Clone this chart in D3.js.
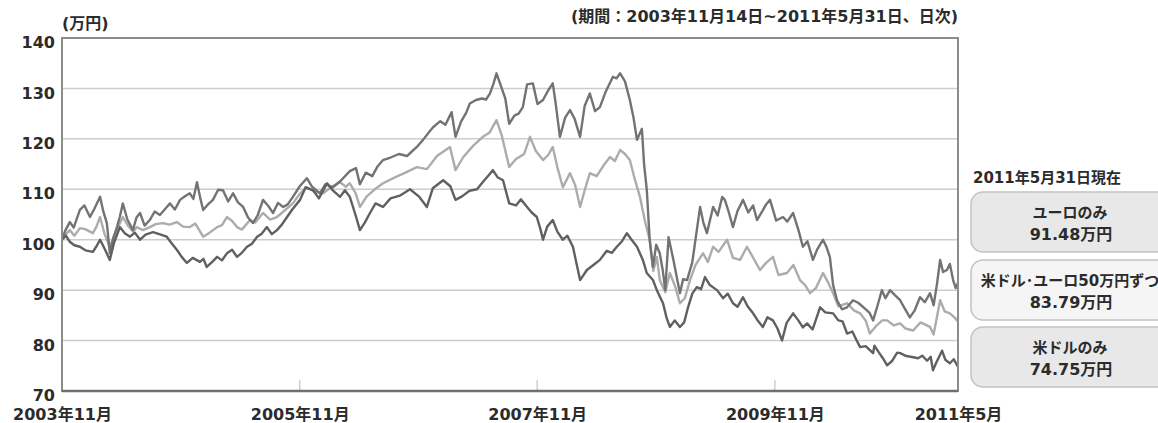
<!DOCTYPE html>
<html>
<head>
<meta charset="utf-8">
<script src="https://cdn.jsdelivr.net/npm/d3@7"></script>
<style>
  html, body { margin: 0; padding: 0; background: #fff; }
  svg { display: block; }
  text { font-family: "DejaVu Sans", "Noto Sans CJK JP", sans-serif; font-weight: bold; fill: #2b2b2b; }
</style>
</head>
<body>
<svg id="chart" width="1158" height="423"></svg>
<script>
// Value of 1,000,000 yen invested on 2003-11-14 (unit: 万円), sampled from the daily series
const euroOnly = [
  ["2003-11-14",100.0],["2003-11-24",101.8],["2003-12-08",103.5],["2003-12-20",102.4],["2004-01-08",105.9],
  ["2004-01-22",106.8],["2004-02-08",104.5],["2004-02-22",106.2],["2004-03-10",108.5],["2004-03-20",105.6],
  ["2004-03-31",103.3],["2004-04-09",97.3],["2004-04-20",100.4],["2004-05-01",102.5],["2004-05-10",104.6],
  ["2004-05-19",107.2],["2004-06-02",104.0],["2004-06-19",101.9],["2004-06-30",104.4],["2004-07-11",105.3],
  ["2004-07-25",102.8],["2004-08-10",103.9],["2004-08-25",105.6],["2004-09-10",104.9],["2004-09-26",106.1],
  ["2004-10-11",107.2],["2004-10-26",106.0],["2004-11-11",107.9],["2004-11-26",108.6],["2004-12-11",109.2],
  ["2004-12-22",108.1],["2005-01-02",111.4],["2005-01-12",108.3],["2005-01-21",105.9],["2005-02-05",107.0],
  ["2005-02-20",107.9],["2005-03-08",109.9],["2005-03-23",109.8],["2005-04-08",107.6],["2005-04-23",109.2],
  ["2005-05-08",107.4],["2005-05-24",106.5],["2005-06-08",104.4],["2005-06-23",103.3],["2005-07-08",104.9],
  ["2005-07-24",107.9],["2005-08-08",106.8],["2005-08-24",105.3],["2005-09-08",107.3],["2005-09-24",106.5],
  ["2005-10-08",107.0],["2005-10-24",108.5],["2005-11-14",110.6],["2005-12-06",112.2],["2005-12-22",110.5],
  ["2006-01-15",109.2],["2006-02-01",111.0],["2006-02-24",110.4],["2006-03-20",111.7],["2006-04-17",113.6],
  ["2006-05-06",114.2],["2006-05-18",111.0],["2006-06-05",113.3],["2006-06-25",112.6],["2006-07-10",114.4],
  ["2006-07-28",115.8],["2006-08-20",116.3],["2006-09-15",117.0],["2006-10-10",116.6],["2006-11-09",118.4],
  ["2006-11-28",119.8],["2006-12-15",121.2],["2006-12-29",122.3],["2007-01-20",123.5],["2007-02-05",122.8],
  ["2007-02-24",125.3],["2007-03-08",120.4],["2007-03-25",123.4],["2007-04-10",125.2],["2007-04-21",127.0],
  ["2007-05-10",127.7],["2007-05-28",128.0],["2007-06-10",127.8],["2007-06-22",129.0],["2007-07-03",131.0],
  ["2007-07-12",133.0],["2007-07-25",130.6],["2007-08-08",128.0],["2007-08-20",123.0],["2007-09-05",124.6],
  ["2007-09-18",125.0],["2007-10-01",126.3],["2007-10-14",130.8],["2007-11-01",131.0],["2007-11-15",126.9],
  ["2007-12-02",127.7],["2007-12-18",129.6],["2008-01-01",131.0],["2008-01-10",127.0],["2008-01-23",120.4],
  ["2008-02-08",124.2],["2008-02-23",125.7],["2008-03-08",124.0],["2008-03-25",120.4],["2008-04-08",126.5],
  ["2008-04-24",129.0],["2008-05-10",125.5],["2008-05-25",126.3],["2008-06-12",129.4],["2008-07-04",132.3],
  ["2008-07-15",132.0],["2008-07-26",133.0],["2008-08-10",131.4],["2008-08-25",127.7],["2008-09-05",124.3],
  ["2008-09-16",119.8],["2008-10-01",122.0],["2008-10-08",114.8],["2008-10-16",110.0],["2008-10-25",100.0],
  ["2008-11-04",94.6],["2008-11-14",99.0],["2008-11-25",97.3],["2008-12-04",94.0],["2008-12-12",90.0],
  ["2008-12-22",100.5],["2009-01-06",96.0],["2009-01-26",89.4],["2009-02-05",92.2],["2009-02-17",92.0],
  ["2009-03-05",95.5],["2009-03-17",101.0],["2009-03-29",106.5],["2009-04-08",103.4],["2009-04-19",101.3],
  ["2009-05-08",106.5],["2009-05-22",104.8],["2009-06-05",108.5],["2009-06-13",107.9],["2009-06-25",105.5],
  ["2009-07-08",102.5],["2009-07-22",105.7],["2009-08-08",107.9],["2009-08-24",105.4],["2009-09-08",106.8],
  ["2009-09-20",103.9],["2009-10-05",105.5],["2009-10-18",107.0],["2009-10-30",107.9],["2009-11-18",103.8],
  ["2009-12-09",104.5],["2009-12-22",103.6],["2010-01-09",105.3],["2010-01-25",102.0],["2010-02-08",98.6],
  ["2010-02-22",99.7],["2010-03-11",96.0],["2010-03-25",98.2],["2010-04-11",100.0],["2010-04-22",98.5],
  ["2010-05-02",96.6],["2010-05-12",91.0],["2010-05-24",88.0],["2010-06-08",86.2],["2010-06-24",86.6],
  ["2010-07-12",88.0],["2010-07-28",87.5],["2010-08-24",86.0],["2010-09-01",85.5],["2010-09-12",84.0],
  ["2010-09-25",86.8],["2010-10-09",90.0],["2010-10-20",88.4],["2010-11-03",90.0],["2010-11-18",89.0],
  ["2010-12-04",88.0],["2010-12-18",86.4],["2011-01-03",84.6],["2011-01-18",86.0],["2011-02-03",88.6],
  ["2011-02-18",87.6],["2011-03-06",89.4],["2011-03-17",87.0],["2011-03-28",91.5],["2011-04-06",96.0],
  ["2011-04-15",93.6],["2011-04-27",94.0],["2011-05-06",95.2],["2011-05-16",92.0],["2011-05-24",90.4],
  ["2011-05-31",91.48]
];

const usdEuroHalf = [
  ["2003-11-14",100.0],["2003-11-25",101.0],["2003-12-08",101.9],["2003-12-22",100.8],["2004-01-08",102.3],
  ["2004-01-24",102.1],["2004-02-17",101.3],["2004-02-28",102.6],["2004-03-10",104.5],["2004-03-24",101.1],
  ["2004-04-09",98.6],["2004-04-25",101.2],["2004-05-19",104.5],["2004-06-05",102.7],["2004-06-20",101.6],
  ["2004-07-01",102.5],["2004-07-20",101.9],["2004-08-10",102.5],["2004-08-28",103.1],["2004-09-19",103.3],
  ["2004-10-10",103.0],["2004-11-01",103.5],["2004-11-20",102.6],["2004-12-11",102.5],["2004-12-28",103.2],
  ["2005-01-21",100.6],["2005-02-10",101.4],["2005-03-05",102.5],["2005-03-20",102.9],["2005-04-04",104.5],
  ["2005-04-20",103.7],["2005-05-05",102.5],["2005-05-20",102.0],["2005-06-14",103.9],["2005-06-30",103.4],
  ["2005-07-24",105.3],["2005-08-15",104.0],["2005-09-05",104.5],["2005-09-25",105.6],["2005-10-24",107.2],
  ["2005-11-14",109.1],["2005-12-06",110.4],["2005-12-28",109.6],["2006-01-25",109.2],["2006-02-20",110.5],
  ["2006-03-18",111.4],["2006-04-05",110.5],["2006-04-17",111.2],["2006-05-05",109.2],["2006-05-18",106.5],
  ["2006-06-08",108.6],["2006-07-01",109.9],["2006-07-28",111.2],["2006-09-01",112.3],["2006-10-05",113.3],
  ["2006-11-09",114.4],["2006-12-10",114.0],["2007-01-10",116.6],["2007-02-19",118.4],["2007-03-08",113.8],
  ["2007-04-01",116.4],["2007-05-01",118.6],["2007-05-31",120.4],["2007-06-20",121.2],["2007-07-12",123.7],
  ["2007-07-28",120.7],["2007-08-20",114.4],["2007-09-10",116.0],["2007-10-05",117.0],["2007-10-23",120.4],
  ["2007-11-10",117.6],["2007-12-02",115.8],["2007-12-18",116.8],["2008-01-01",118.4],["2008-01-15",114.4],
  ["2008-02-01",110.4],["2008-02-23",113.2],["2008-03-10",110.8],["2008-03-25",106.5],["2008-04-10",110.2],
  ["2008-04-24",113.2],["2008-05-15",112.6],["2008-06-05",114.7],["2008-06-25",116.4],["2008-07-10",115.6],
  ["2008-07-26",117.8],["2008-08-10",117.0],["2008-08-25",115.8],["2008-09-10",111.8],["2008-09-25",108.5],
  ["2008-10-10",103.8],["2008-10-25",100.0],["2008-11-05",93.8],["2008-11-16",96.6],["2008-11-25",92.0],
  ["2008-12-12",89.6],["2008-12-26",93.4],["2009-01-12",90.6],["2009-01-26",87.4],["2009-02-10",88.4],
  ["2009-02-26",92.0],["2009-03-15",95.0],["2009-04-07",97.3],["2009-04-22",95.6],["2009-05-08",98.6],
  ["2009-05-25",97.6],["2009-06-20",100.0],["2009-07-08",96.4],["2009-07-30",96.0],["2009-08-20",98.6],
  ["2009-09-05",96.8],["2009-09-29",94.0],["2009-10-18",95.4],["2009-11-08",96.6],["2009-11-25",93.0],
  ["2009-12-21",93.4],["2010-01-10",95.0],["2010-01-30",92.0],["2010-02-15",91.0],["2010-03-02",89.4],
  ["2010-03-20",90.4],["2010-04-11",93.4],["2010-04-26",91.6],["2010-05-12",89.4],["2010-05-28",86.8],
  ["2010-06-24",87.4],["2010-07-15",86.0],["2010-08-03",85.4],["2010-08-20",84.0],["2010-09-02",81.4],
  ["2010-09-20",82.8],["2010-10-10",84.0],["2010-10-25",84.0],["2010-11-15",83.0],["2010-12-04",83.4],
  ["2010-12-20",82.4],["2011-01-13",82.0],["2011-02-05",83.6],["2011-03-06",82.7],["2011-03-17",81.2],
  ["2011-04-06",88.0],["2011-04-20",85.8],["2011-05-06",85.4],["2011-05-20",84.6],["2011-05-31",83.79]
];

const usdOnly = [
  ["2003-11-14",100.0],["2003-11-26",100.8],["2003-12-08",99.6],["2003-12-22",98.9],["2004-01-08",98.6],
  ["2004-01-25",97.9],["2004-02-17",97.6],["2004-02-28",98.7],["2004-03-10",100.0],["2004-03-24",98.2],
  ["2004-04-09",96.0],["2004-04-22",99.4],["2004-05-10",102.5],["2004-05-25",101.3],["2004-06-10",100.6],
  ["2004-06-25",101.4],["2004-07-11",100.0],["2004-07-28",101.0],["2004-08-20",101.5],["2004-09-08",101.1],
  ["2004-10-01",100.6],["2004-10-16",99.3],["2004-11-01",98.0],["2004-11-16",96.6],["2004-12-02",95.4],
  ["2004-12-20",96.4],["2005-01-11",95.6],["2005-01-22",96.2],["2005-02-01",94.6],["2005-02-18",95.6],
  ["2005-03-05",96.6],["2005-03-20",95.9],["2005-04-04",97.3],["2005-04-20",98.0],["2005-05-05",96.6],
  ["2005-05-20",97.4],["2005-06-05",98.6],["2005-06-20",99.2],["2005-07-06",100.6],["2005-07-20",101.2],
  ["2005-08-05",102.5],["2005-08-20",101.1],["2005-09-05",101.9],["2005-09-20",103.0],["2005-10-06",104.5],
  ["2005-10-22",106.0],["2005-11-15",107.9],["2005-12-02",110.4],["2005-12-25",109.8],["2006-01-12",108.2],
  ["2006-02-06",111.2],["2006-02-22",109.9],["2006-03-18",108.5],["2006-04-02",109.8],["2006-04-17",108.5],
  ["2006-05-05",104.8],["2006-05-18",101.9],["2006-06-02",103.4],["2006-06-18",105.3],["2006-07-05",107.2],
  ["2006-07-28",106.5],["2006-08-20",108.2],["2006-09-20",108.8],["2006-10-19",110.0],["2006-11-15",108.6],
  ["2006-12-10",106.5],["2006-12-28",110.2],["2007-01-29",111.8],["2007-02-20",110.6],["2007-03-08",107.9],
  ["2007-03-28",108.6],["2007-04-20",109.7],["2007-05-13",110.0],["2007-06-02",111.6],["2007-06-18",112.8],
  ["2007-07-01",113.8],["2007-07-15",112.4],["2007-08-01",111.8],["2007-08-20",107.2],["2007-09-10",106.8],
  ["2007-09-25",108.0],["2007-10-14",106.5],["2007-10-28",105.4],["2007-11-13",104.5],["2007-11-24",102.1],
  ["2007-12-02",100.0],["2007-12-15",102.6],["2008-01-01",103.9],["2008-01-15",101.6],["2008-02-01",100.0],
  ["2008-02-15",100.8],["2008-03-03",98.6],["2008-03-15",95.0],["2008-03-25",92.0],["2008-04-15",94.0],
  ["2008-05-05",95.0],["2008-05-25",96.0],["2008-06-15",97.8],["2008-07-01",97.4],["2008-07-16",98.6],
  ["2008-08-01",99.7],["2008-08-16",101.3],["2008-08-28",100.2],["2008-09-16",98.6],["2008-10-04",96.0],
  ["2008-10-16",93.4],["2008-11-04",92.0],["2008-11-16",90.0],["2008-12-05",87.4],["2008-12-16",84.5],
  ["2008-12-26",82.7],["2009-01-10",84.0],["2009-01-26",82.7],["2009-02-08",83.6],["2009-02-20",86.6],
  ["2009-03-05",89.3],["2009-03-19",90.6],["2009-04-01",90.2],["2009-04-13",92.6],["2009-04-28",91.0],
  ["2009-05-20",90.0],["2009-06-08",88.4],["2009-06-22",89.3],["2009-07-08",87.4],["2009-07-22",86.7],
  ["2009-08-08",88.6],["2009-08-22",86.8],["2009-09-08",85.4],["2009-09-22",84.0],["2009-10-08",82.7],
  ["2009-10-22",84.6],["2009-11-08",84.0],["2009-11-22",82.4],["2009-12-06",80.0],["2009-12-20",83.5],
  ["2010-01-09",85.4],["2010-01-25",84.0],["2010-02-08",82.6],["2010-02-21",83.4],["2010-03-10",82.2],
  ["2010-04-02",86.6],["2010-04-18",85.6],["2010-05-12",85.4],["2010-05-28",84.0],["2010-06-10",83.8],
  ["2010-06-24",81.4],["2010-07-10",81.8],["2010-07-22",80.2],["2010-08-03",78.7],["2010-08-20",78.9],
  ["2010-09-12",77.5],["2010-09-16",79.0],["2010-09-28",77.8],["2010-10-12",76.5],["2010-10-25",75.1],
  ["2010-11-10",76.0],["2010-11-25",77.6],["2010-12-04",77.5],["2010-12-20",77.0],["2011-01-13",76.7],
  ["2011-01-28",76.5],["2011-02-10",77.0],["2011-02-25",76.0],["2011-03-08",76.8],["2011-03-15",74.1],
  ["2011-03-25",75.6],["2011-04-12",78.0],["2011-04-22",76.2],["2011-05-06",75.5],["2011-05-18",76.3],
  ["2011-05-31",74.75]
];

const seriesNames = ["ユーロのみ", "米ドル･ユーロ50万円ずつ", "米ドルのみ"];
const yTicks = [70, 80, 90, 100, 110, 120, 130, 140];
const xTickDates = ["2003-11-14", "2005-11-14", "2007-11-14", "2009-11-14", "2011-05-31"];
const xTickLabels = ["2003年11月", "2005年11月", "2007年11月", "2009年11月", "2011年5月"];
const unitLabel = "(万円)";
const periodLabel = "(期間：2003年11月14日~2011年5月31日、日次)";
const asOfLabel = "2011年5月31日現在";

const parse = d3.timeParse("%Y-%m-%d");
const svg = d3.select("#chart");

const plot = { left: 62, right: 958, top: 38, bottom: 391 };

const x = d3.scaleTime()
  .domain([parse(xTickDates[0]), parse(xTickDates[xTickDates.length - 1])])
  .range([plot.left, plot.right]);
const y = d3.scaleLinear().domain([70, 140]).range([plot.bottom, plot.top]);

// horizontal gridlines
svg.append("g").selectAll("line")
  .data(yTicks.filter(v => v > 70 && v < 140))
  .join("line")
  .attr("x1", plot.left).attr("x2", plot.right)
  .attr("y1", d => y(d)).attr("y2", d => y(d))
  .attr("stroke", "#cdcdcd").attr("stroke-width", 1.5);

// small inner tick marks on the time axis
svg.append("g").selectAll("line")
  .data(xTickDates.slice(1, -1))
  .join("line")
  .attr("x1", d => x(parse(d))).attr("x2", d => x(parse(d)))
  .attr("y1", plot.bottom - 11).attr("y2", plot.bottom)
  .attr("stroke", "#c4c4c4").attr("stroke-width", 1.2);

// series lines
const line = d3.line()
  .x(d => x(parse(d[0])))
  .y(d => y(d[1]));

const seriesList = [
  { data: usdEuroHalf, color: "#acacac" },
  { data: euroOnly, color: "#737373" },
  { data: usdOnly, color: "#606060" }
];
svg.append("g").selectAll("path")
  .data(seriesList)
  .join("path")
  .attr("d", d => line(d.data))
  .attr("fill", "none")
  .attr("stroke", d => d.color)
  .attr("stroke-width", 2.4)
  .attr("stroke-linejoin", "round");

// plot frame
svg.append("rect")
  .attr("x", plot.left).attr("y", plot.top)
  .attr("width", plot.right - plot.left).attr("height", plot.bottom - plot.top)
  .attr("fill", "none").attr("stroke", "#8c8c8c").attr("stroke-width", 2);
svg.append("line")
  .attr("x1", plot.left).attr("x2", plot.right)
  .attr("y1", plot.bottom).attr("y2", plot.bottom)
  .attr("stroke", "#6f6f6f").attr("stroke-width", 2.4);

// y axis labels
const yAxis = svg.append("g")
  .attr("transform", `translate(${plot.left},0)`)
  .call(d3.axisLeft(y).tickValues(yTicks).tickSize(0).tickPadding(7).tickFormat(d3.format("d")));
yAxis.select(".domain").remove();
yAxis.selectAll("text")
  .attr("font-size", 16).attr("dy", "0.6em")
  .style("font-family", null);

// x axis labels
const xAxis = svg.append("g")
  .attr("transform", `translate(0,${plot.bottom})`)
  .call(d3.axisBottom(x).tickValues(xTickDates.map(parse)).tickSize(0)
    .tickFormat((d, i) => xTickLabels[i]));
xAxis.select(".domain").remove();
xAxis.selectAll("text")
  .attr("font-size", 16).attr("y", 29).attr("dy", 0);

// header texts
svg.append("text").attr("x", plot.left).attr("y", 29)
  .attr("font-size", 16).text(unitLabel);
svg.append("text").attr("x", plot.right).attr("y", 22)
  .attr("font-size", 16).attr("text-anchor", "end").text(periodLabel);

// value boxes at the end date
svg.append("text").attr("x", 973).attr("y", 183)
  .attr("font-size", 15).text(asOfLabel);

const boxes = [
  { name: seriesNames[0], data: euroOnly, top: 192, fill: "#e8e8e8" },
  { name: seriesNames[1], data: usdEuroHalf, top: 260, fill: "#f5f5f5" },
  { name: seriesNames[2], data: usdOnly, top: 327, fill: "#e8e8e8" }
];
const box = svg.append("g").selectAll("g").data(boxes).join("g")
  .attr("transform", d => `translate(971,${d.top})`);
box.append("rect")
  .attr("width", 205).attr("height", 60).attr("rx", 12)
  .attr("fill", d => d.fill).attr("stroke", "#c2c2c2").attr("stroke-width", 1.5);
box.append("text")
  .attr("x", 99).attr("y", 26).attr("text-anchor", "middle").attr("font-size", 15)
  .text(d => d.name);
box.append("text")
  .attr("x", 100).attr("y", 48).attr("text-anchor", "middle").attr("font-size", 16)
  .text(d => d.data[d.data.length - 1][1].toFixed(2) + "万円");
</script>
</body>
</html>
